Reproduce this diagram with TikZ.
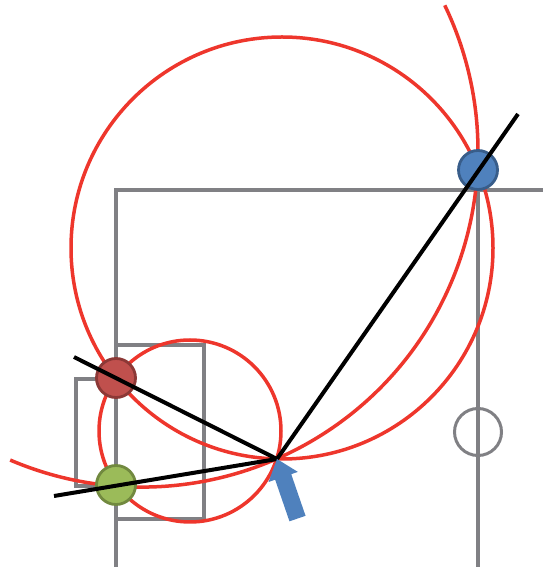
\documentclass[tikz,border=0pt]{standalone}
\usepackage{tikz}

\definecolor{orbitred}{RGB}{238,54,44}
\definecolor{wallgray}{RGB}{128,128,132}
\definecolor{dotred}{RGB}{192,80,77}
\definecolor{dotredline}{RGB}{140,56,54}
\definecolor{dotgreen}{RGB}{155,187,89}
\definecolor{dotgreenline}{RGB}{113,137,63}
\definecolor{dotblue}{RGB}{79,129,189}
\definecolor{dotblueline}{RGB}{56,93,138}

\begin{document}
\begin{tikzpicture}[x=1pt, y=1pt,
  wall/.style={draw=wallgray, line width=4pt},
  orbit/.style={draw=orbitred, line width=3.5pt},
  dot/.style={draw, circle, line width=2.8pt, minimum size=39pt, inner sep=0pt},
  ring/.style={draw=wallgray, circle, line width=3pt, minimum size=47pt, inner sep=0pt},
  ray/.style={draw=black, line width=4pt}]
\useasboundingbox (0,0) rectangle (543,567);
\coordinate (focus) at (277,108);

% grey walls
\draw[wall] (116,0) -- (116,377) -- (543,377);
\draw[wall] (478,377) -- (478,0);
\draw[wall] (116,48) rectangle (204,222);
\draw[wall] (76,81) rectangle (116,188);
\node[ring] at (478,135) (empty) {};

% red circles
\draw[orbit] (282,319) circle (211pt);
\draw[orbit] (190,136) circle (91pt);
\draw[orbit] (142,416) ++(246.9:336pt) arc[start angle=246.9, end angle=385.7, radius=336pt];

% dots
\node[dot, fill=dotred, draw=dotredline] at (116,189) (upper) {};
\node[dot, fill=dotgreen, draw=dotgreenline] at (116,82) (lower) {};
\node[dot, fill=dotblue, draw=dotblueline] at (478,397) (far) {};

% black lines into the focus
\coordinate (endfar) at (518,453);
\coordinate (endupper) at (74,210);
\coordinate (endlower) at (54,71);
\draw[ray] (endfar) -- (focus);
\draw[ray] (endupper) -- (focus);
\draw[ray] (endlower) -- (focus);

% blue pointer
\begin{scope}[shift={(focus)}, rotate=109]
\fill[dotblue] (0,0) -- (-19,15.5) -- (-19,8.5) -- (-63,8.5) -- (-63,-8.5) -- (-19,-8.5) -- (-19,-15.5) -- cycle;
\end{scope}
\end{tikzpicture}
\end{document}
